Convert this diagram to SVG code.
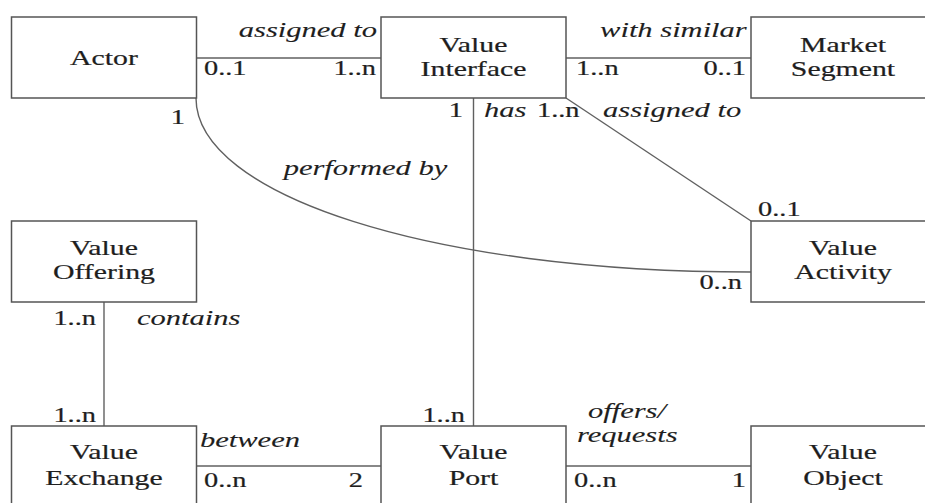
<svg xmlns="http://www.w3.org/2000/svg" width="925" height="503" viewBox="0 0 925 503" font-family="Liberation Serif, serif">
<style>
  .box { fill: #ffffff; stroke: #555555; stroke-width: 1.5; }
  .ln { fill: none; stroke: #606060; stroke-width: 1.4; }
  .n { font-family: 'Liberation Serif', serif; fill: #1e1e1e; stroke: #1e1e1e; stroke-width: 0.2; font-size: 21px; text-anchor: middle; transform-box: fill-box; transform-origin: center; transform: scaleX(1.42); }
  .i { font-family: 'Liberation Serif', serif; fill: #1e1e1e; stroke: #1e1e1e; stroke-width: 0.1; font-size: 21.5px; font-style: italic; }
  .c { font-family: 'Liberation Serif', serif; fill: #1e1e1e; stroke: #1e1e1e; stroke-width: 0.2; font-size: 20px; }
  .s { text-anchor: start; transform-box: fill-box; transform-origin: left; transform: scaleX(1.42); }
  .e { text-anchor: end; transform-box: fill-box; transform-origin: right; transform: scaleX(1.42); }
</style>
<rect width="925" height="503" fill="#ffffff"/>
<g id="connectors" font-family="Liberation Serif, serif">
  <line class="ln" x1="196" y1="58" x2="381" y2="58"/>
  <line class="ln" x1="566" y1="58" x2="751" y2="58"/>
  <line class="ln" x1="473.5" y1="98" x2="473.5" y2="426"/>
  <line class="ln" x1="566" y1="98" x2="751" y2="221"/>
  <path class="ln" d="M196,98 C196,195 430,272 751,272"/>
  <line class="ln" x1="104" y1="302" x2="104" y2="426"/>
  <line class="ln" x1="196" y1="466" x2="381" y2="466"/>
  <line class="ln" x1="566" y1="466" x2="751" y2="466"/>
  <text class="i e" x="377" y="37">assigned to</text>
  <text class="c s" x="204" y="75">0..1</text>
  <text class="c e" x="376" y="75">1..n</text>
  <text class="i e" x="747" y="37">with similar</text>
  <text class="c s" x="576" y="75">1..n</text>
  <text class="c e" x="746" y="75">0..1</text>
  <text class="c e" x="463" y="117">1</text>
  <text class="i s" x="484" y="117">has</text>
  <text class="c s" x="537" y="117">1..n</text>
  <text class="i s" x="603" y="117">assigned to</text>
  <text class="c e" x="185" y="124">1</text>
  <text class="i s" x="283" y="175">performed by</text>
  <text class="c s" x="758" y="216">0..1</text>
  <text class="c e" x="742" y="289">0..n</text>
  <text class="c e" x="96" y="325">1..n</text>
  <text class="i s" x="137" y="325">contains</text>
  <text class="c e" x="96" y="422">1..n</text>
  <text class="c e" x="465" y="422">1..n</text>
  <text class="i s" x="200" y="447">between</text>
  <text class="c s" x="204" y="487">0..n</text>
  <text class="c e" x="363" y="487">2</text>
  <text class="i s" x="588" y="418">offers/</text>
  <text class="i s" x="577" y="442">requests</text>
  <text class="c s" x="574" y="487">0..n</text>
  <text class="c e" x="746" y="487">1</text>
</g>
<g id="actor" font-family="Liberation Serif, serif">
  <rect class="box" x="11.5" y="17" width="185" height="81"/>
  <text class="n" x="104" y="65">Actor</text>
</g>
<g id="value-interface" font-family="Liberation Serif, serif">
  <rect class="box" x="381" y="17" width="185" height="81"/>
  <text class="n" x="473.5" y="52">Value</text>
  <text class="n" x="473.5" y="76">Interface</text>
</g>
<g id="market-segment" font-family="Liberation Serif, serif">
  <rect class="box" x="751" y="17" width="185" height="81"/>
  <text class="n" x="843" y="52">Market</text>
  <text class="n" x="843" y="76">Segment</text>
</g>
<g id="value-offering" font-family="Liberation Serif, serif">
  <rect class="box" x="11.5" y="221" width="185" height="81"/>
  <text class="n" x="104" y="255">Value</text>
  <text class="n" x="104" y="279">Offering</text>
</g>
<g id="value-activity" font-family="Liberation Serif, serif">
  <rect class="box" x="751" y="221" width="185" height="81"/>
  <text class="n" x="843" y="255">Value</text>
  <text class="n" x="843" y="279">Activity</text>
</g>
<g id="value-exchange" font-family="Liberation Serif, serif">
  <rect class="box" x="11.5" y="426" width="185" height="81"/>
  <text class="n" x="104" y="459">Value</text>
  <text class="n" x="104" y="485">Exchange</text>
</g>
<g id="value-port" font-family="Liberation Serif, serif">
  <rect class="box" x="381" y="426" width="185" height="81"/>
  <text class="n" x="473.5" y="459">Value</text>
  <text class="n" x="473.5" y="485">Port</text>
</g>
<g id="value-object" font-family="Liberation Serif, serif">
  <rect class="box" x="751" y="426" width="185" height="81"/>
  <text class="n" x="843" y="459">Value</text>
  <text class="n" x="843" y="485">Object</text>
</g>
</svg>
